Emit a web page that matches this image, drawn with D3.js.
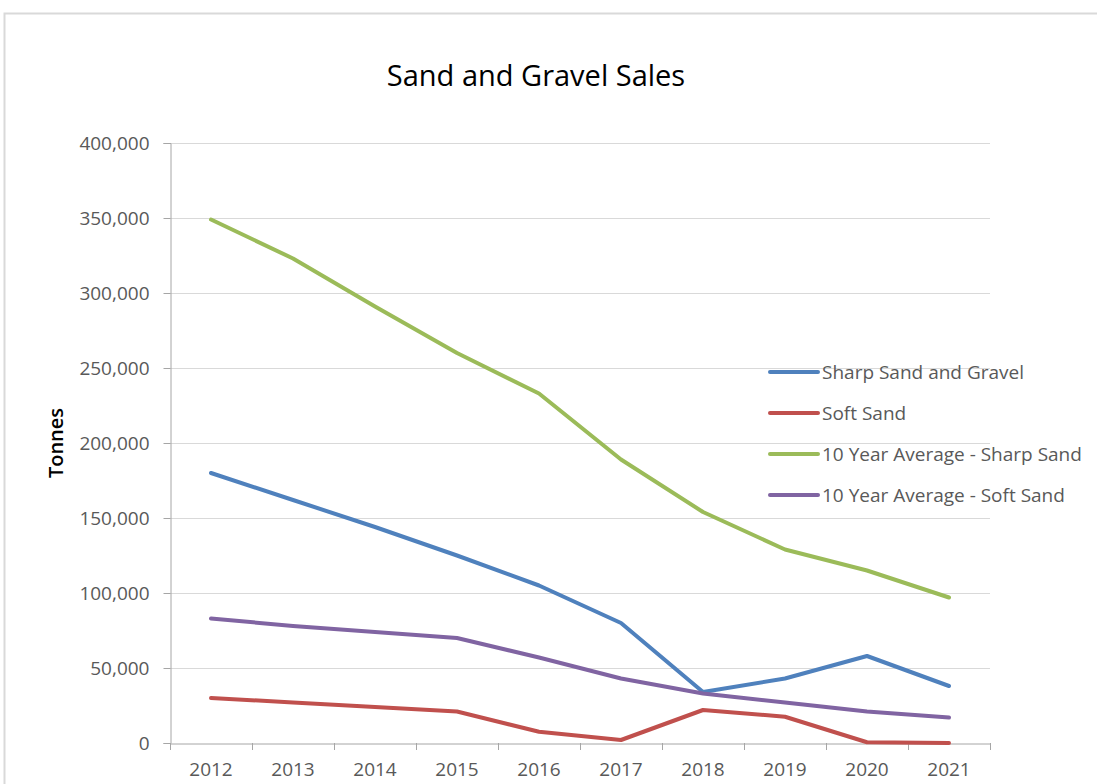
<!DOCTYPE html>
<html><head><meta charset="utf-8">
<script src="https://cdn.jsdelivr.net/npm/d3@7"></script>
<style>body{margin:0;background:#fff;}svg{display:block;}</style>
</head><body>
<svg id="c" width="1097" height="784"></svg>
<script>
const years = ["2012","2013","2014","2015","2016","2017","2018","2019","2020","2021"];
const sharpSand = [180000,162000,144000,125000,105000,80000,34000,43000,58000,38000];
const softSand = [30000,27000,24000,21000,7500,2000,22000,17500,500,0];
const avgSharp = [349000,323000,291000,260000,233000,189000,154000,129000,115000,97000];
const avgSoft = [83000,78000,74000,70000,57000,43000,33000,27000,21000,17000];
const seriesNames = ["Sharp Sand and Gravel","Soft Sand","10 Year Average - Sharp Sand","10 Year Average - Soft Sand"];
const colors = ["#4F81BD","#C0504D","#9BBB59","#8064A2"];
const yTicks = [0,50000,100000,150000,200000,250000,300000,350000,400000];

const series = [sharpSand, softSand, avgSharp, avgSoft];
const svg = d3.select("#c");
const font = "'Open Sans', sans-serif";

svg.append("rect").attr("x",4.5).attr("y",13.5).attr("width",1200).attr("height",900)
  .attr("fill","none").attr("stroke","#d9d9d9").attr("stroke-width",2);

const L=170,R=990,T=143,B=743;
const x = d3.scaleBand().domain(years).range([L,R]);
const y = d3.scaleLinear().domain([0,400000]).range([B,T]);

// gridlines
svg.append("g").selectAll("line").data(yTicks.filter(d=>d>0)).join("line")
  .attr("x1",L).attr("x2",R).attr("y1",d=>y(d)+0.5).attr("y2",d=>y(d)+0.5)
  .attr("stroke","#d9d9d9").attr("stroke-width",1);

// y axis
const yAxis = svg.append("g").attr("transform",`translate(${L+0.5},0)`)
  .call(d3.axisLeft(y).tickValues(yTicks).tickSize(7).tickPadding(14).tickFormat(d3.format(",")));
yAxis.select(".domain").attr("stroke","#a6a6a6");
yAxis.selectAll(".tick line").attr("stroke","#a6a6a6");
yAxis.selectAll("text").attr("fill","#595959").style("font-family",font).style("font-size","19px");

// x axis
const xAxis = svg.append("g").attr("transform",`translate(0,${B+0.5})`)
  .call(d3.axisBottom(x).tickSize(0).tickPadding(19));
xAxis.select(".domain").attr("stroke","#a6a6a6");
xAxis.selectAll("text").attr("fill","#595959").style("font-family",font).style("font-size","19px");
const bounds = years.map(d=>x(d)).concat([R]);
svg.append("g").selectAll("line").data(bounds).join("line")
  .attr("x1",d=>d+0.5).attr("x2",d=>d+0.5).attr("y1",B).attr("y2",B+7)
  .attr("stroke","#a6a6a6");

// lines
const line = d3.line().x((d,i)=>x(years[i])+x.bandwidth()/2).y(d=>y(d));
series.forEach((s,i)=>{
  svg.append("path").datum(s).attr("d",line).attr("fill","none")
    .attr("stroke",colors[i]).attr("stroke-width",4)
    .attr("stroke-linejoin","round").attr("stroke-linecap","round");
});

// title
svg.append("text").attr("x",536).attr("y",86).attr("text-anchor","middle")
  .style("font-family",font).style("font-size","29px").attr("fill","#000")
  .text("Sand and Gravel Sales");

// y title
svg.append("text").attr("transform","translate(63,443) rotate(-90)").attr("text-anchor","middle")
  .style("font-family",font).style("font-size","20px").style("font-weight","600").attr("fill","#000")
  .text("Tonnes");

// legend
const lg = svg.append("g");
seriesNames.forEach((n,i)=>{
  const yy = 372 + i*41;
  lg.append("line").attr("x1",770).attr("x2",818).attr("y1",yy).attr("y2",yy)
    .attr("stroke",colors[i]).attr("stroke-width",4).attr("stroke-linecap","round");
  lg.append("text").attr("x",822).attr("y",yy+7).style("font-family",font).style("font-size","19px")
    .attr("fill","#595959").text(n);
});
</script>
</body></html>
